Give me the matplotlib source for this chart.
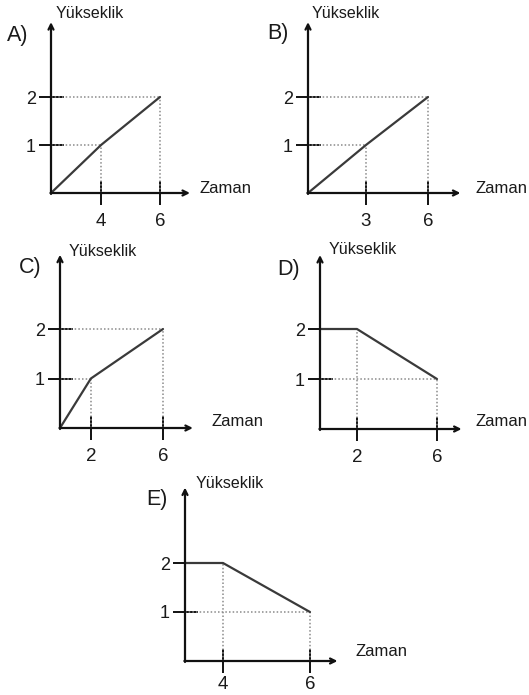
import matplotlib.pyplot as plt
import numpy as np

plt.rcParams['font.family'] = ['Liberation Sans', 'DejaVu Sans']

# Graph data: time (Zaman) and height (Yükseklik) corner points per option
panels = ['A', 'B', 'C', 'D', 'E']
time_a, height_a = [0, 4, 6], [0, 1, 2]
time_b, height_b = [0, 3, 6], [0, 1, 2]
time_c, height_c = [0, 2, 6], [0, 1, 2]
time_d, height_d = [0, 2, 6], [2, 2, 1]
time_e, height_e = [0, 4, 6], [2, 2, 1]
series = {
    'A': (time_a, height_a),
    'B': (time_b, height_b),
    'C': (time_c, height_c),
    'D': (time_d, height_d),
    'E': (time_e, height_e),
}
x_label = 'Zaman'
y_label = 'Yükseklik'

W, H = 529, 695

# layout in pixels: origin x/y, width to t=6, height to h=2,
# where the middle time tick sits (fraction of width), arrow extents,
# label anchors (option letter, y label, x label) and x tick label pad
layout = {
    'A': dict(ox=51, oy=193, w=109, h=96, mid=0.459, ax_end=1.275, ay_end=1.78,
              tag=(7, 36), ylab=(56, 14), xlab=(199, 188), pad=6),
    'B': dict(ox=308, oy=193, w=120, h=96, mid=0.483, ax_end=1.27, ay_end=1.78,
              tag=(267, 34), ylab=(312, 14), xlab=(475, 188), pad=6),
    'C': dict(ox=60, oy=428, w=103, h=99, mid=0.30, ax_end=1.29, ay_end=1.75,
              tag=(19, 268), ylab=(69, 251), xlab=(212, 421), pad=6),
    'D': dict(ox=320, oy=429, w=117, h=100, mid=0.316, ax_end=1.21, ay_end=1.74,
              tag=(277, 270), ylab=(329, 250), xlab=(475, 421), pad=6),
    'E': dict(ox=185, oy=661, w=125, h=98, mid=0.304, ax_end=1.22, ay_end=1.77,
              tag=(146, 500), ylab=(196, 483), xlab=(356, 651), pad=2),
}

line_col = '#3a3a3a'
guide_col = '#8a8a8a'
text_col = '#1a1a1a'


def sketch_scale(mid_val, mid_frac):
    # the drawings are not to scale: piecewise-linear time axis
    xs = [0, mid_val, 6]
    ts = [0, mid_frac * 6, 6]
    return (lambda v: np.interp(v, xs, ts), lambda t: np.interp(t, ts, xs))


fig = plt.figure(figsize=(W / 100, H / 100), dpi=100)

for p in panels:
    t, h = series[p]
    L = layout[p]
    ax = fig.add_axes([L['ox'] / W, 1 - L['oy'] / H, L['w'] / W, L['h'] / H])
    ax.set_xscale('function', functions=sketch_scale(t[1], L['mid']))
    ax.set_xlim(0, 6)
    ax.set_ylim(0, 2)
    for s in ax.spines.values():
        s.set_visible(False)
    ax.patch.set_alpha(0)

    # dotted guide lines to each corner point
    for xi, yi in zip(t, h):
        if xi == 0:
            continue
        ax.plot([0, xi], [yi, yi], ls=(0, (1, 1.4)), color=guide_col, lw=1.1,
                clip_on=False)
        ax.plot([xi, xi], [0, yi], ls=(0, (1, 1.4)), color=guide_col, lw=1.1,
                clip_on=False)

    ax.plot(t, h, color=line_col, lw=1.6, clip_on=False, solid_capstyle='round')

    # axes with arrow heads
    arrow = dict(arrowstyle='->', color='#111111', lw=1.6, mutation_scale=9,
                 shrinkA=0, shrinkB=0)
    ax.annotate('', xy=(L['ax_end'], 0), xytext=(-0.005, 0), xycoords='axes fraction',
                arrowprops=arrow, annotation_clip=False)
    ax.annotate('', xy=(0, L['ay_end']), xytext=(0, -0.01), xycoords='axes fraction',
                arrowprops=arrow, annotation_clip=False)

    ax.set_xticks([t[1], 6], [str(t[1]), '6'])
    ax.set_yticks([1, 2], ['1', '2'])
    ax.tick_params(axis='x', direction='inout', length=17, width=1.4,
                   color='#111111', labelsize=13.5, labelcolor=text_col, pad=L['pad'])
    ax.tick_params(axis='y', direction='inout', length=18, width=1.4,
                   color='#111111', labelsize=13, labelcolor=text_col, pad=2)

    fig.text(L['tag'][0] / W, 1 - L['tag'][1] / H, p + ')', fontsize=15.5,
             color=text_col, va='center', ha='left')
    fig.text(L['ylab'][0] / W, 1 - L['ylab'][1] / H, y_label, fontsize=11.5,
             color=text_col, va='center', ha='left')
    fig.text(L['xlab'][0] / W, 1 - L['xlab'][1] / H, x_label, fontsize=12,
             color=text_col, va='center', ha='left')

fig.savefig('out.png', dpi=100, facecolor='white')
